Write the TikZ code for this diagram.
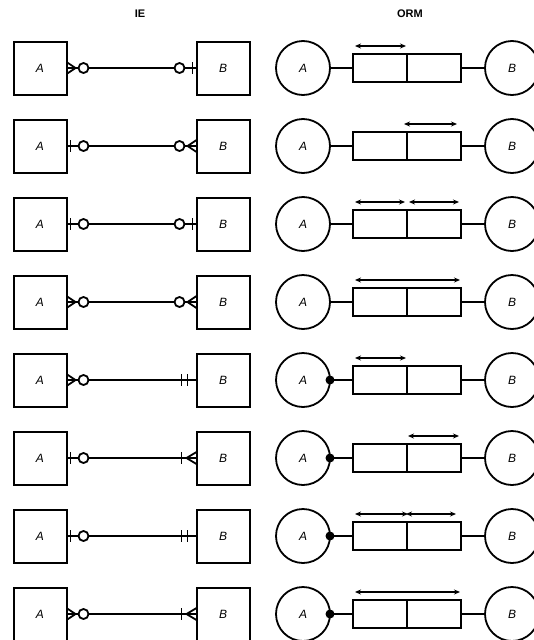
\documentclass[tikz,border=0pt]{standalone}
\usepackage{fontspec}
\setmainfont{Liberation Sans}
\usetikzlibrary{positioning,arrows.meta}

% IE end marks, drawn from the box edge outwards
\newcommand{\iebar}[1]{\draw (#1,-6) -- (#1,6);}
\newcommand{\iering}{\draw[fill=white] (17,0) circle (5pt);}
\newcommand{\iecrow}[1]{\draw (0,-6) -- (#1,0) -- (0,6);}
\newcommand{\markzeromany}{\iecrow{9}\iering}
\newcommand{\markzeroone}{\iebar{4}\iering}
\newcommand{\markoneone}{\iebar{9}\iebar{15}}
\newcommand{\markonemany}{\iecrow{10}\iebar{15}}

\tikzset{
  entity/.style={draw, line width=2pt, minimum size=53pt, inner sep=0pt, outer sep=0pt, font=\fontsize{12}{14}\selectfont\itshape},
  objtype/.style={draw, circle, minimum size=54pt, inner sep=0pt, outer sep=0pt, font=\fontsize{12}{14}\selectfont\itshape},
  role/.style={draw, minimum width=54pt, minimum height=28pt, inner sep=0pt, outer sep=0pt},
  uniq/.style={{Stealth[length=6pt,width=5pt]}-{Stealth[length=6pt,width=5pt]}, line width=1.5pt},
  head/.style={font=\fontsize{11}{13}\selectfont\bfseries}
}

\begin{document}
\begin{tikzpicture}[x=1pt, y=-1pt, line width=1.8pt]
    \useasboundingbox (0,0) rectangle (534,640);

    % Column titles
    \node[head] (ie) at (140,14) {IE};
    \node[head] (orm) at (410,14) {ORM};

    % IE rows
    \foreach \i/\ea/\eb [evaluate=\i as \y using 68+78*(\i-1)] in
        {1/\markzeromany/\markzeroone, 2/\markzeroone/\markzeromany,
         3/\markzeroone/\markzeroone, 4/\markzeromany/\markzeromany,
         5/\markzeromany/\markoneone, 6/\markzeroone/\markonemany,
         7/\markzeroone/\markoneone, 8/\markzeromany/\markonemany} {
        \node[entity] (a\i) at (40,\y) {A};
        \node[entity] (b\i) at (223,\y) {B};
        \draw (a\i.east) -- (b\i.west);
        \begin{scope}[shift={(a\i.east)}] \ea \end{scope}
        \begin{scope}[shift={(b\i.west)}, xscale=-1] \eb \end{scope}
    }

    % ORM rows
    \foreach \i [evaluate=\i as \y using 68+78*(\i-1)] in {1,...,8} {
        \node[objtype] (oa\i) at (303,\y) {A};
        \node[objtype] (ob\i) at (512,\y) {B};
        \node[role] (ra\i) at (380,\y) {};
        \node[role, right=0pt of ra\i] (rb\i) {};
        \draw (oa\i) -- (ra\i);
        \draw (rb\i) -- (ob\i);
    }

    % Uniqueness constraints
    \draw[uniq] ([xshift=2pt,yshift=8pt]ra1.north west) -- ([xshift=-1pt,yshift=8pt]ra1.north east);
    \draw[uniq] ([xshift=-3pt,yshift=8pt]rb2.north west) -- ([xshift=-4pt,yshift=8pt]rb2.north east);
    \draw[uniq] ([xshift=2pt,yshift=8pt]ra3.north west) -- ([xshift=-2pt,yshift=8pt]ra3.north east);
    \draw[uniq] ([xshift=2pt,yshift=8pt]rb3.north west) -- ([xshift=-2pt,yshift=8pt]rb3.north east);
    \draw[uniq] ([xshift=2pt,yshift=8pt]ra4.north west) -- ([xshift=-1pt,yshift=8pt]rb4.north east);
    \draw[uniq] ([xshift=2pt,yshift=8pt]ra5.north west) -- ([xshift=-1pt,yshift=8pt]ra5.north east);
    \draw[uniq] ([xshift=1pt,yshift=8pt]rb6.north west) -- ([xshift=-2pt,yshift=8pt]rb6.north east);
    \draw[uniq] ([xshift=2pt,yshift=8pt]ra7.north west) -- ([xshift=1pt,yshift=8pt]ra7.north east);
    \draw[uniq] ([xshift=-1pt,yshift=8pt]rb7.north west) -- ([xshift=-5pt,yshift=8pt]rb7.north east);
    \draw[uniq] ([xshift=2pt,yshift=8pt]ra8.north west) -- ([xshift=-1pt,yshift=8pt]rb8.north east);

    % Mandatory role dots
    \foreach \i in {5,...,8}
        \fill (oa\i.east) circle (4.5pt);
\end{tikzpicture}
\end{document}
